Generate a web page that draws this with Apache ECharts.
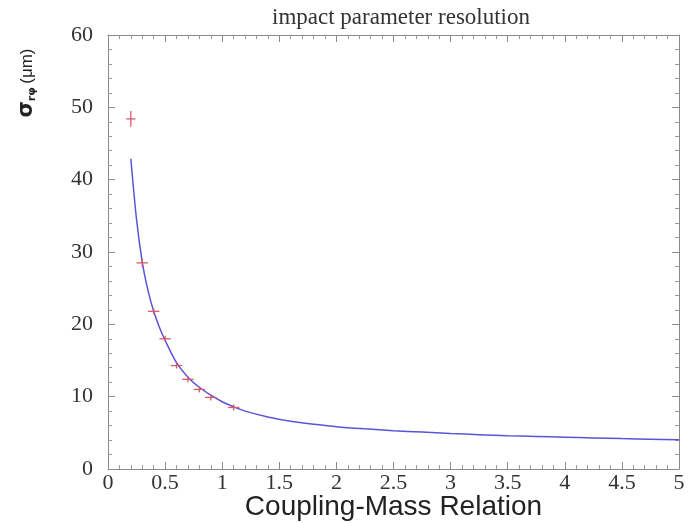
<!DOCTYPE html>
<html><head><meta charset="utf-8">
<script src="https://cdn.jsdelivr.net/npm/echarts@6/dist/echarts.min.js"></script>
<style>html,body{margin:0;padding:0;background:#fff}#c{width:692px;height:523px}</style>
</head><body><div id="c"></div>
<script>
// fitted curve
const curveX = [0.2,0.25,0.3,0.35,0.4,0.45,0.5,0.6,0.7,0.8,0.9,1.0,1.1,1.2,1.4,1.6,1.8,2.0,2.25,2.5,2.75,3.0,3.25,3.5,3.75,4.0,4.25,4.5,4.75,5.0];
const curveY = [42.9,34.5,28.6,24.7,21.8,19.6,17.8,14.7,12.7,11.3,10.2,9.3,8.6,8.0,7.2,6.6,6.2,5.85,5.55,5.3,5.1,4.9,4.75,4.6,4.5,4.4,4.3,4.2,4.12,4.05];
// measured points with errors
const ptX = [0.2,0.3,0.4,0.5,0.6,0.7,0.8,0.9,1.1];
const ptY = [48.4,28.5,21.8,18.0,14.3,12.4,11.0,9.9,8.5];
const ptErr = [1.1,0.6,0.4,0.3,0.2,0.2,0.15,0.15,0.1];
const ptXErr = [0.04,0.05,0.05,0.05,0.05,0.05,0.05,0.05,0.05];
const xTicks = ['0','0.5','1','1.5','2','2.5','3','3.5','4','4.5','5'];

const chart = echarts.init(document.getElementById('c'));
const serif = 'Liberation Serif';
function axisCommon(){ return {
  axisLine:{show:true,onZero:false,lineStyle:{color:'#8a8a8a',width:1}},
  axisTick:{show:true,inside:true,length:7,lineStyle:{color:'#8a8a8a'}},
  minorTick:{show:true,splitNumber:5,length:4,lineStyle:{color:'#9a9a9a'}},
  splitLine:{show:false}
};}
chart.setOption({
  animation:false,
  title:{text:'impact parameter resolution',left:396,textAlign:'center',top:1,
    textStyle:{fontFamily:serif,fontSize:23,fontWeight:'normal',color:'#333'}},
  grid:{left:108,right:13,top:35,bottom:54,outerBoundsMode:'none',containLabel:false},
  graphic:[{type:'text',x:27,y:83,rotation:Math.PI/2,
    style:{text:'{s|σ}{b|rφ} {m|(μm)}',align:'center',verticalAlign:'middle',
      rich:{s:{fontFamily:'DejaVu Sans',fontSize:21,fill:'#222',fontWeight:'bold'},
            b:{fontFamily:'DejaVu Sans',fontSize:11,fill:'#222',padding:[10,0,0,0],fontWeight:'bold'},
            m:{fontFamily:'Liberation Sans',fontSize:17,fill:'#222'}}}}],
  xAxis:[
    Object.assign({type:'value',min:0,max:5,interval:0.5,
      name:'Coupling-Mass Relation',nameLocation:'middle',nameGap:24,nameMoveOverlap:false,
      nameTextStyle:{fontFamily:'Liberation Sans',fontSize:28,color:'#222'},
      axisLabel:{fontFamily:serif,fontSize:22,color:'#333',margin:3,
        formatter:(v)=>{const i=Math.round(v/0.5);return xTicks[i]!==undefined?xTicks[i]:'';}}},axisCommon()),
    Object.assign({type:'value',min:0,max:5,interval:0.5,position:'top',axisLabel:{show:false}},axisCommon())
  ],
  yAxis:[
    Object.assign({type:'value',min:0,max:60,interval:10,
      axisLabel:{fontFamily:serif,fontSize:22,color:'#333',margin:15}},axisCommon()),
    Object.assign({type:'value',min:0,max:60,interval:10,position:'right',axisLabel:{show:false}},axisCommon())
  ],
  series:[
    {type:'line',smooth:0.3,symbol:'none',data:curveX.map((x,i)=>[x,curveY[i]]),
      lineStyle:{color:'#5a55d8',width:1.5},z:3},
    {type:'custom',z:4,data:ptX.map((x,i)=>[x,ptY[i],ptErr[i],ptXErr[i]]),
      renderItem:function(params,api){
        const x=api.value(0),y=api.value(1),e=api.value(2),xe=api.value(3);
        const c=api.coord([x,y]);
        const t=api.coord([x,y+e]),b=api.coord([x,y-e]);
        const l=api.coord([x-xe,y]),r=api.coord([x+xe,y]);
        const st={stroke:'#d85a6a',lineWidth:1.3};
        return {type:'group',children:[
          {type:'line',shape:{x1:l[0],y1:c[1],x2:r[0],y2:c[1]},style:st},
          {type:'line',shape:{x1:c[0],y1:Math.min(t[1],c[1]-3),x2:c[0],y2:Math.max(b[1],c[1]+3)},style:st}
        ]};
      }}
  ]
});
</script></body></html>
